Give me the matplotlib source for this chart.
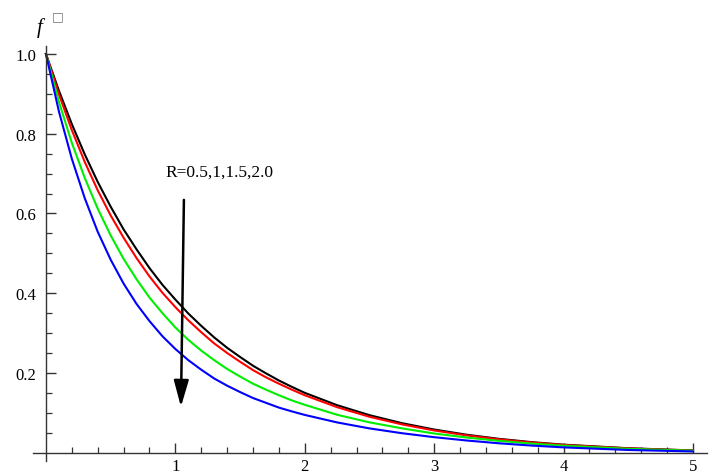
import matplotlib
matplotlib.use("Agg")
import matplotlib.pyplot as plt
from matplotlib.ticker import FixedLocator

eta = [0, 0.1, 0.2, 0.3, 0.4, 0.5, 0.6, 0.7, 0.8, 0.9, 1.0,
       1.1, 1.2, 1.3, 1.4, 1.5, 1.6, 1.7, 1.8, 1.9, 2.0,
       2.25, 2.5, 2.75, 3.0, 3.25, 3.5, 3.75, 4.0, 4.5, 5.0]

f_R05 = [1.000, 0.908, 0.824, 0.748, 0.679, 0.617, 0.560, 0.510, 0.463, 0.421, 0.384,
         0.349, 0.318, 0.289, 0.263, 0.240, 0.218, 0.199, 0.181, 0.165, 0.150,
         0.119, 0.094, 0.074, 0.058, 0.045, 0.0347, 0.0265, 0.0200, 0.0111, 0.0055]
f_R10 = [1.000, 0.899, 0.809, 0.729, 0.658, 0.595, 0.539, 0.488, 0.442, 0.401, 0.365,
         0.332, 0.302, 0.274, 0.250, 0.228, 0.207, 0.189, 0.173, 0.158, 0.144,
         0.114, 0.090, 0.071, 0.0556, 0.0433, 0.0334, 0.0255, 0.0193, 0.0106, 0.0052]
f_R15 = [1.000, 0.880, 0.777, 0.689, 0.612, 0.545, 0.486, 0.435, 0.389, 0.350, 0.314,
         0.283, 0.256, 0.232, 0.210, 0.191, 0.173, 0.158, 0.144, 0.131, 0.120,
         0.095, 0.076, 0.061, 0.048, 0.038, 0.0296, 0.0228, 0.0174, 0.0096, 0.0048]
f_R20 = [1.000, 0.856, 0.737, 0.638, 0.554, 0.484, 0.424, 0.373, 0.330, 0.292, 0.260,
         0.232, 0.208, 0.186, 0.168, 0.152, 0.137, 0.125, 0.113, 0.1035, 0.0946,
         0.0758, 0.0608, 0.0488, 0.0388, 0.0305, 0.0235, 0.0178, 0.0132, 0.0067, 0.0030]

series = [f_R05, f_R10, f_R15, f_R20]
colors = ["#000000", "#ff0000", "#00ee00", "#0000ff"]

x_ticks = [1, 2, 3, 4, 5]
y_ticks = [0.2, 0.4, 0.6, 0.8, 1.0]
y_tick_labels = ["0.2", "0.4", "0.6", "0.8", "1.0"]
annot_text = "R=0.5,1,1.5,2.0"

fig = plt.figure(figsize=(7.24, 4.77), dpi=100)
ax = fig.add_axes([0.0456, 0.0314, 0.9309, 0.8701])

for ys, c in zip(series, colors):
    ax.plot(eta, ys, color=c, lw=1.5, solid_joinstyle="round")

ax.set_xlim(-0.100, 5.108)
ax.set_ylim(-0.021, 1.020)

axis_color = "#333333"
for side in ["top", "right"]:
    ax.spines[side].set_visible(False)
ax.spines["left"].set_position(("data", 0))
ax.spines["bottom"].set_position(("data", 0))
for side in ["left", "bottom"]:
    ax.spines[side].set_color(axis_color)
    ax.spines[side].set_linewidth(1.0)

ax.xaxis.set_major_locator(FixedLocator(x_ticks))
ax.xaxis.set_minor_locator(FixedLocator([v / 5 for v in range(1, 25) if v % 5 != 0]))
ax.yaxis.set_major_locator(FixedLocator(y_ticks))
ax.yaxis.set_minor_locator(FixedLocator([v / 20 for v in range(1, 20) if v % 4 != 0]))
ax.set_yticklabels(y_tick_labels)

serif = "Liberation Serif"
ax.tick_params(axis="both", which="major", direction="in", length=7, width=1.0,
               color=axis_color, labelsize=12)
ax.tick_params(axis="both", which="minor", direction="in", length=4, width=0.9,
               color=axis_color)
ax.tick_params(axis="x", which="major", pad=4)
ax.tick_params(axis="y", which="major", pad=7)
for lab in ax.get_xticklabels() + ax.get_yticklabels():
    lab.set_fontfamily(serif)

# axis label f' (rendered with missing-glyph box as in the reference)
ax.text(-0.072, 1.068, "f", fontsize=15, fontstyle="italic", family=serif,
        ha="left", va="center", clip_on=False)
ax.text(0.045, 1.095, "\u25a1", fontsize=9, family="DejaVu Sans", color="#777777",
        ha="left", va="center", clip_on=False)

# annotation arrow
ax.annotate("", xy=(1.043, 0.115), xytext=(1.066, 0.634),
            arrowprops=dict(arrowstyle="-|>,head_length=1.6,head_width=0.45",
                            color="black", lw=1.8, shrinkA=0, shrinkB=0))
ax.text(0.92, 0.704, annot_text, fontsize=12.5, family=serif, ha="left", va="center")

fig.savefig("out.png", dpi=100)
